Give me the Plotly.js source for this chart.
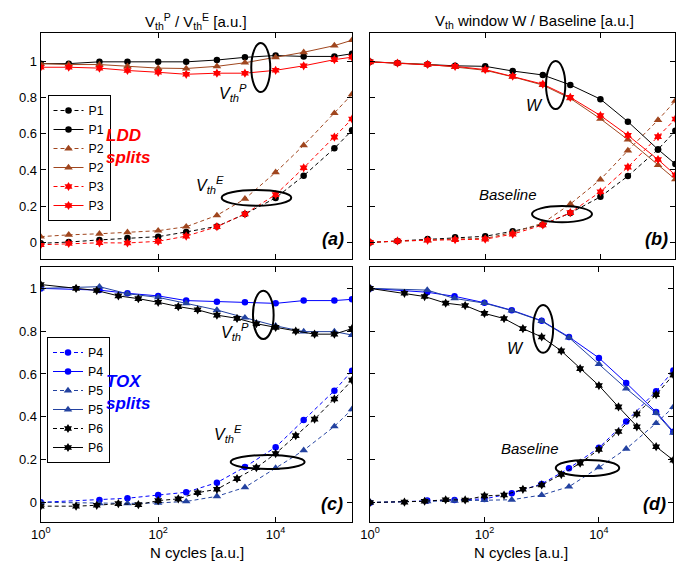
<!DOCTYPE html>
<html><head><meta charset="utf-8">
<script src="https://cdn.plot.ly/plotly-3.0.1.min.js"></script>
<style>html,body{margin:0;padding:0;background:#fff}#chart{width:691px;height:568px}</style>
</head><body><div id="chart"></div>
<script>
// ---------- data ----------
const xLDD = [1, 3, 10, 30, 100, 300, 1000, 3000, 10000, 30000, 100000, 200000];
const xTOX = [1, 10, 30, 100, 300, 1000, 3000, 10000, 30000, 100000, 200000];
const xP6  = [1, 4, 9, 21, 46, 100, 220, 470, 1000, 2200, 4700, 10000, 22000, 46000, 100000, 200000];

// panel (a): Vth^P (solid) and Vth^E (dashed)
const p1VP = [0.99, 0.99, 1.0, 1.0, 1.0, 1.0, 1.01, 1.025, 1.035, 1.03, 1.03, 1.045];
const p2VP = [0.99, 0.985, 0.985, 0.975, 0.965, 0.963, 0.975, 0.995, 1.025, 1.053, 1.09, 1.12];
const p3VP = [0.97, 0.97, 0.965, 0.952, 0.942, 0.931, 0.937, 0.937, 0.953, 0.978, 1.012, 1.026];
const p1VE = [-0.007, 0.0, 0.012, 0.022, 0.03, 0.056, 0.087, 0.155, 0.245, 0.368, 0.52, 0.62];
const p2VE = [0.03, 0.04, 0.046, 0.054, 0.063, 0.085, 0.148, 0.24, 0.387, 0.537, 0.715, 0.82];
const p3VE = [-0.015, -0.008, -0.004, -0.005, 0.004, 0.033, 0.085, 0.156, 0.263, 0.412, 0.582, 0.683];

// panel (b): window W (solid) and Baseline (dashed)
const p1W  = [1.0, 0.993, 0.986, 0.978, 0.975, 0.949, 0.927, 0.872, 0.793, 0.668, 0.514, 0.433];
const p2W  = [1.0, 0.993, 0.986, 0.971, 0.953, 0.917, 0.871, 0.797, 0.684, 0.568, 0.427, 0.348];
const p3W  = [1.0, 0.993, 0.986, 0.975, 0.957, 0.92, 0.876, 0.803, 0.702, 0.592, 0.458, 0.372];
const p1B  = [-0.002, 0.006, 0.017, 0.026, 0.032, 0.06, 0.097, 0.161, 0.251, 0.366, 0.514, 0.617];
const p2B  = [-0.002, 0.005, 0.01, 0.017, 0.02, 0.053, 0.105, 0.211, 0.347, 0.508, 0.677, 0.784];
const p3B  = [-0.002, 0.006, 0.01, 0.013, 0.016, 0.044, 0.095, 0.163, 0.279, 0.416, 0.585, 0.683];

// panel (c)
const p4VP = [1.0, 0.992, 0.977, 0.965, 0.943, 0.938, 0.935, 0.93, 0.943, 0.943, 0.949];
const p5VP = [1.0, 1.008, 0.975, 0.958, 0.93, 0.899, 0.863, 0.825, 0.798, 0.798, 0.782];
const p6VP = [1.018, 1.0, 0.99, 0.965, 0.952, 0.935, 0.915, 0.9, 0.875, 0.86, 0.835, 0.818, 0.8, 0.786, 0.786, 0.812];
const p4VE = [0.0, 0.011, 0.019, 0.034, 0.047, 0.092, 0.165, 0.258, 0.385, 0.522, 0.615];
const p5VE = [0.0, -0.005, -0.005, -0.003, 0.004, 0.028, 0.07, 0.16, 0.243, 0.355, 0.435];
const p6VE = [-0.018, -0.018, -0.014, -0.006, -0.011, 0.008, 0.016, 0.045, 0.061, 0.111, 0.162, 0.228, 0.312, 0.389, 0.483, 0.571];

// panel (d)
const p4W  = [1.0, 0.982, 0.963, 0.933, 0.898, 0.849, 0.773, 0.675, 0.558, 0.422, 0.33];
const p5W  = [1.0, 0.992, 0.953, 0.931, 0.896, 0.847, 0.77, 0.646, 0.532, 0.417, 0.325];
const p6W  = [1.0, 0.977, 0.962, 0.931, 0.92, 0.883, 0.859, 0.812, 0.773, 0.708, 0.625, 0.546, 0.446, 0.353, 0.26, 0.197];
const p4B  = [-0.002, 0.008, 0.011, 0.016, 0.042, 0.086, 0.159, 0.255, 0.378, 0.519, 0.616];
const p5B  = [0.0, 0.004, 0.007, 0.01, 0.012, 0.034, 0.073, 0.163, 0.25, 0.37, 0.445];
const p6B  = [-0.001, 0.001, 0.005, 0.012, 0.011, 0.03, 0.034, 0.061, 0.081, 0.13, 0.183, 0.247, 0.331, 0.413, 0.503, 0.596];

const xTickVals = [1, 100, 10000];
const xTickText = ['10<sup>0</sup>', '10<sup>2</sup>', '10<sup>4</sup>'];
const yTickVals = [0, 0.2, 0.4, 0.6, 0.8, 1];
const yTickText = ['0', '0.2', '0.4', '0.6', '0.8', '1'];

// ---------- styling ----------
const W = 691, H = 568;
const FONT = 'Liberation Sans, Arial, Helvetica, sans-serif';
const C = {p1:'#000000', p2:'#a0461e', p3:'#ff0000', p4:'#0000ff', p5:'#2342a0', p6:'#000000'};
const SYM = {p1:'circle', p2:'triangle-up', p3:'hexagram', p4:'circle', p5:'triangle-up', p6:'hexagram'};
const SZ = {circle:6.5, 'triangle-up':7.5, hexagram:7};

function tr(x, y, key, dashed, xa, ya, name, legend, show) {
  return {
    x: x, y: y, type: 'scatter', mode: 'lines+markers',
    xaxis: xa, yaxis: ya, name: name, legend: legend, showlegend: show,
    line: {color: C[key], width: 1, dash: dashed ? '4px,3px' : 'solid'},
    marker: {color: C[key], symbol: SYM[key], size: SZ[SYM[key]], line: {width: 0}},
    hoverinfo: 'skip'
  };
}

const data = [
  tr(xLDD, p1VE, 'p1', true,  'x', 'y', 'P1', 'legend', true),
  tr(xLDD, p1VP, 'p1', false, 'x', 'y', 'P1', 'legend', true),
  tr(xLDD, p2VE, 'p2', true,  'x', 'y', 'P2', 'legend', true),
  tr(xLDD, p2VP, 'p2', false, 'x', 'y', 'P2', 'legend', true),
  tr(xLDD, p3VE, 'p3', true,  'x', 'y', 'P3', 'legend', true),
  tr(xLDD, p3VP, 'p3', false, 'x', 'y', 'P3', 'legend', true),

  tr(xLDD, p1B, 'p1', true,  'x2', 'y2', 'P1', 'legend', false),
  tr(xLDD, p2B, 'p2', true,  'x2', 'y2', 'P2', 'legend', false),
  tr(xLDD, p3B, 'p3', true,  'x2', 'y2', 'P3', 'legend', false),
  tr(xLDD, p1W, 'p1', false, 'x2', 'y2', 'P1', 'legend', false),
  tr(xLDD, p2W, 'p2', false, 'x2', 'y2', 'P2', 'legend', false),
  tr(xLDD, p3W, 'p3', false, 'x2', 'y2', 'P3', 'legend', false),

  tr(xTOX, p4VE, 'p4', true,  'x3', 'y3', 'P4', 'legend2', true),
  tr(xTOX, p4VP, 'p4', false, 'x3', 'y3', 'P4', 'legend2', true),
  tr(xTOX, p5VE, 'p5', true,  'x3', 'y3', 'P5', 'legend2', true),
  tr(xTOX, p5VP, 'p5', false, 'x3', 'y3', 'P5', 'legend2', true),
  tr(xP6,  p6VE, 'p6', true,  'x3', 'y3', 'P6', 'legend2', true),
  tr(xP6,  p6VP, 'p6', false, 'x3', 'y3', 'P6', 'legend2', true),

  tr(xTOX, p4B, 'p4', true,  'x4', 'y4', 'P4', 'legend2', false),
  tr(xTOX, p5B, 'p5', true,  'x4', 'y4', 'P5', 'legend2', false),
  tr(xP6,  p6B, 'p6', true,  'x4', 'y4', 'P6', 'legend2', false),
  tr(xTOX, p4W, 'p4', false, 'x4', 'y4', 'P4', 'legend2', false),
  tr(xTOX, p5W, 'p5', false, 'x4', 'y4', 'P5', 'legend2', false),
  tr(xP6,  p6W, 'p6', false, 'x4', 'y4', 'P6', 'legend2', false)
];

function axX(domain, anchor, labels) {
  return {type: 'log', range: [0, 5.3], domain: domain, anchor: anchor,
    tickmode: 'array', tickvals: xTickVals, ticktext: xTickText, showticklabels: labels,
    ticks: 'inside', ticklen: 5, tickwidth: 1, tickcolor: '#000',
    showline: true, linecolor: '#000', linewidth: 1, mirror: 'ticks',
    showgrid: false, zeroline: false, fixedrange: true,
    tickfont: {family: FONT, size: 13, color: '#000'}};
}
function axY(domain, anchor, range, labels) {
  return {range: range, domain: domain, anchor: anchor,
    tickmode: 'array', tickvals: yTickVals, ticktext: yTickText, showticklabels: labels,
    ticks: 'inside', ticklen: 5, tickwidth: 1, tickcolor: '#000',
    showline: true, linecolor: '#000', linewidth: 1, mirror: 'ticks',
    showgrid: false, zeroline: false, fixedrange: true,
    tickfont: {family: FONT, size: 13, color: '#000'}};
}

const dxL = [40.7 / W, 352 / W];
const dxB = [370 / W, 675.3 / W];
const dxD = [370 / W, 673.3 / W];
const dyT = [1 - 259 / H, 1 - 33 / H];
const dyB = [1 - 522 / H, 1 - 267 / H];
const rT = [-0.094, 1.16];
const rB = [-0.092, 1.1];

function px(v) { return v / W; }
function py(v) { return 1 - v / H; }
function ann(text, x, y, size, opts) {
  return Object.assign({text: text, x: px(x), y: py(y), xref: 'paper', yref: 'paper',
    showarrow: false, xanchor: 'center', yanchor: 'middle', borderpad: 0,
    font: {family: FONT, size: size, color: '#000'}}, opts || {});
}

const annotations = [
  ann('V<sub>th</sub><sup>P</sup> / V<sub>th</sub><sup>E</sup> [a.u.]', 196, 21, 15),
  ann('V<sub>th</sub> window W / Baseline [a.u.]', 534, 22, 15),
  ann('N cycles [a.u.]', 197, 552.5, 15),
  ann('N cycles [a.u.]', 521, 552.5, 15),

  ann('<b><i>LDD<br>splits</i></b>', 105, 146, 17, {xanchor: 'left', align: 'left', font: {family: FONT, size: 17, color: '#ff0000'}}),
  ann('<b><i>TOX<br>splits</i></b>', 105, 392, 17, {xanchor: 'left', align: 'left', font: {family: FONT, size: 17, color: '#0000ff'}}),

  ann('<b><i>(a)</i></b>', 332.5, 239, 18),
  ann('<b><i>(b)</i></b>', 656, 239, 18),
  ann('<b><i>(c)</i></b>', 332, 504, 18),
  ann('<b><i>(d)</i></b>', 654, 504, 18),

  ann('<i>V<sub>th</sub><sup>P</sup></i>', 218, 93, 16, {xanchor: 'left'}),
  ann('<i>V<sub>th</sub><sup>E</sup></i>', 195, 185, 16, {xanchor: 'left'}),
  ann('<i>V<sub>th</sub><sup>P</sup></i>', 220, 332, 16, {xanchor: 'left'}),
  ann('<i>V<sub>th</sub><sup>E</sup></i>', 213, 434, 16, {xanchor: 'left'}),

  ann('<i>W</i>', 534.7, 105, 16),
  ann('<i>Baseline</i>', 508, 194, 15),
  ann('<i>W</i>', 515.5, 348, 16),
  ann('<i>Baseline</i>', 530, 448.5, 15)
];

function ell(xr, yr, x0, x1, y0, y1) {
  return {type: 'circle', xref: xr, yref: yr, x0: x0, x1: x1, y0: y0, y1: y1,
    line: {color: '#000', width: 2}, fillcolor: 'rgba(0,0,0,0)'};
}
const shapes = [
  ell('x', 'y', 3846, 8090, 0.832, 1.104),
  ell('x', 'y', 1205, 18450, 0.202, 0.289),
  ell('x2', 'y2', 1137, 2457, 0.738, 1.004),
  ell('x2', 'y2', 649, 7145, 0.110, 0.200),
  ell('x3', 'y3', 4110, 9250, 0.763, 0.989),
  ell('x3', 'y3', 1714, 31190, 0.156, 0.221),
  ell('x4', 'y4', 707, 1585, 0.699, 0.922),
  ell('x4', 'y4', 1758, 22690, 0.123, 0.198)
];

const legendBase = {xanchor: 'left', yanchor: 'top', bgcolor: '#fff', bordercolor: '#000', borderwidth: 1,
  font: {family: FONT, size: 12.3, color: '#000'}, itemwidth: 30, tracegroupgap: 0};

const layout = {
  width: W, height: H, margin: {l: 0, r: 0, t: 0, b: 0},
  paper_bgcolor: '#fff', plot_bgcolor: '#fff',
  font: {family: FONT, size: 13, color: '#000'},
  xaxis: axX(dxL, 'y', false),   yaxis: axY(dyT, 'x', rT, true),
  xaxis2: axX(dxB, 'y2', false), yaxis2: axY(dyT, 'x2', rT, false),
  xaxis3: axX(dxL, 'y3', true),  yaxis3: axY(dyB, 'x3', rB, true),
  xaxis4: axX(dxD, 'y4', true),  yaxis4: axY(dyB, 'x4', rB, false),
  legend: Object.assign({x: px(47.5), y: py(95)}, legendBase),
  legend2: Object.assign({x: px(47), y: py(337)}, legendBase),
  annotations: annotations,
  shapes: shapes
};

Plotly.newPlot('chart', data, layout, {displayModeBar: false, staticPlot: true});
</script>
</body></html>
